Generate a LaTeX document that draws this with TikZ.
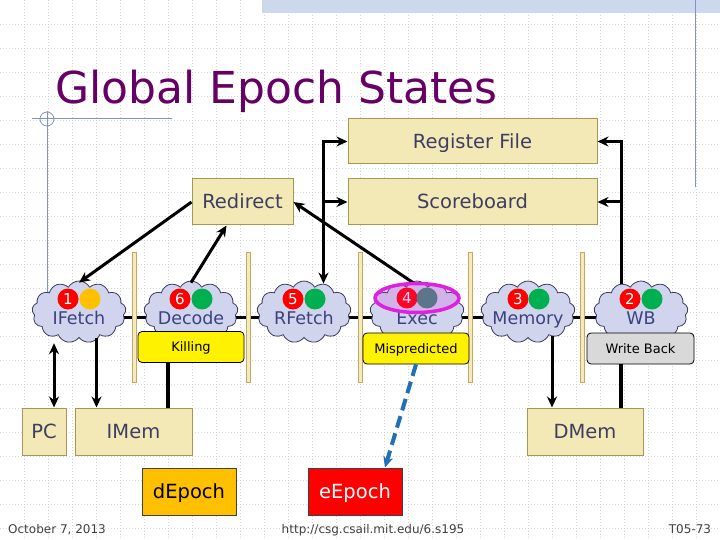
\documentclass[tikz,border=0pt]{standalone}
\usepackage{fontspec}
\setmainfont{DejaVu Sans}
\usetikzlibrary{calc,shapes,arrows.meta}
\definecolor{regfill}{RGB}{243,233,182}
\definecolor{regline}{RGB}{168,150,84}
\definecolor{boxtext}{RGB}{62,62,98}
\definecolor{cloudfill}{RGB}{208,212,236}
\definecolor{cloudline}{RGB}{60,60,100}
\definecolor{stagetext}{RGB}{60,66,128}
\definecolor{titlecol}{RGB}{102,0,102}
\definecolor{epochred}{RGB}{255,0,0}
\definecolor{epochgreen}{RGB}{0,176,80}
\definecolor{epochorange}{RGB}{255,192,0}
\definecolor{epochteal}{RGB}{64,136,120}
\definecolor{ringcol}{RGB}{224,32,224}
\definecolor{fifofill}{RGB}{245,233,190}
\definecolor{fifoline}{RGB}{200,168,96}
\definecolor{dashblue}{RGB}{31,112,180}
\definecolor{slideblue}{RGB}{130,146,196}
\definecolor{hatchblue}{RGB}{204,216,236}
\definecolor{gridcol}{RGB}{214,214,214}
\definecolor{footcol}{RGB}{64,64,64}
\tikzstyle{every picture}=[>={Stealth[length=11pt,width=10pt]}]
\tikzstyle{unitbox}=[draw=regline,fill=regfill,text=boxtext,line width=1pt,inner sep=0pt,
  font=\fontsize{19.5}{22}\selectfont,text height=14pt,text depth=0pt]
\tikzstyle{stagecloud}=[cloud,cloud puffs=13,cloud puff arc=120,cloud ignores aspect,draw=cloudline,
  fill=cloudfill,line width=0.8pt,minimum width=94pt,minimum height=62pt,inner sep=0pt]
\tikzstyle{stagelbl}=[text=stagetext,inner sep=0pt,font=\fontsize{17.5}{20}\selectfont,
  text height=12.8pt,text depth=0pt]
\tikzstyle{epochnum}=[circle,fill=epochred,text=white,minimum size=21pt,inner sep=0pt,
  font=\fontsize{15}{15}\selectfont]
\tikzstyle{epochdot}=[circle,minimum size=21pt,inner sep=0pt]
\tikzstyle{flagbox}=[draw=black,rounded corners=4pt,line width=0.8pt,minimum height=31pt,inner sep=0pt,
  font=\fontsize{13}{15}\selectfont,text height=9.5pt,text depth=0pt]
\tikzstyle{epochreg}=[draw=black!75,line width=1pt,minimum width=94pt,minimum height=47pt,inner sep=0pt,
  font=\fontsize{19.5}{22}\selectfont,text height=14pt,text depth=0pt]
\tikzstyle{fifobar}=[draw=fifoline,fill=fifofill,line width=0.8pt]
\tikzstyle{wire}=[line width=3pt]
\tikzstyle{gridline}=[gridcol,line width=0.6pt,dash pattern=on 0.8pt off 2.2pt]
\tikzstyle{footer}=[text=footcol,inner sep=0pt,font=\fontsize{12}{14}\selectfont,anchor=base]

\begin{document}
\begin{tikzpicture}[x=1pt,y=-1pt]
    \useasboundingbox (0,0) rectangle (720,540);
    % slide background
    \fill[white] (0,0) rectangle (720,540);
    \foreach \gx in {24,48,...,696} \draw[gridline] (\gx,0) -- (\gx,540);
    \foreach \gy in {24,48,...,528} \draw[gridline] (0,\gy) -- (720,\gy);
    \fill[hatchblue] (262,0) rectangle (720,13);
    \draw[slideblue,line width=1pt] (695,0) -- (695,187);
    \draw[slideblue,line width=1pt] (32,119) -- (172,119);
    \draw[slideblue,line width=1pt] (47,111) -- (47,300);
    \draw[slideblue,line width=0.8pt] (47,119) circle[radius=7pt];

    % Title
    \node[anchor=base west,text=titlecol,inner sep=0pt,font=\fontsize{44}{50}\selectfont]
        (title) at (55,104) {Global Epoch States};

    % Shared state
    \node[unitbox,minimum width=249pt,minimum height=45pt] (regfile) at (472.5,141.5) {Register File};
    \node[unitbox,minimum width=249pt,minimum height=46pt] (scoreboard) at (472.5,202) {Scoreboard};
    \node[unitbox,minimum width=101pt,minimum height=46pt] (redirect) at (242.5,202) {Redirect};

    % Memories
    \node[unitbox,minimum width=44pt,minimum height=47pt] (pc) at (44,431.5) {PC};
    \node[unitbox,minimum width=117pt,minimum height=47pt] (imem) at (133.5,431.5) {IMem};
    \node[unitbox,minimum width=116pt,minimum height=47pt] (dmem) at (585,431.5) {DMem};

    % Epoch registers
    \node[epochreg,fill=epochorange] (depoch) at (189,491.5) {dEpoch};
    \node[epochreg,fill=epochred,text=white] (eepoch) at (355,491.5) {eEpoch};

    % Pipeline wire behind the stages
    \coordinate (ifetchc) at (79,312);
    \coordinate (decodec) at (191,312);
    \coordinate (rfetchc) at (304,312);
    \coordinate (execc) at (417,312);
    \coordinate (memoryc) at (528,312);
    \coordinate (wbc) at (641,312);
    \draw[wire] ([yshift=-5pt]ifetchc) -- ([yshift=-5pt]wbc);
    \foreach \fx in {134,248,360,470,582}
        \draw[fifobar] (\fx-2,252) rectangle (\fx+2,382);

    % WB writes register file and scoreboard
    \coordinate (wbjoin) at ([xshift=24pt]regfile.east);
    \draw[wire,->] ($(wbjoin |- wbc)+(0,-18)$) -- (wbjoin) -- (regfile.east);
    \draw[wire,->] (wbjoin |- scoreboard.east) -- (scoreboard.east);

    % IFetch
    \node[stagecloud] (ifetch) at (ifetchc) {};
    \node[stagelbl] (ifetchlbl) at ([yshift=-6pt]ifetch.center) {IFetch};
    \node[epochnum] (ifetchnum) at ([xshift=-11pt,yshift=13pt]ifetch.center) {1};
    \node[epochdot,fill=epochorange] (ifetchdot) at ([xshift=11pt,yshift=13pt]ifetch.center) {};

    % Decode
    \node[stagecloud] (decode) at (decodec) {};
    \node[stagelbl] (decodelbl) at ([yshift=-6pt]decode.center) {Decode};
    \node[epochnum] (decodenum) at ([xshift=-11pt,yshift=13pt]decode.center) {6};
    \node[epochdot,fill=epochgreen] (decodedot) at ([xshift=11pt,yshift=13pt]decode.center) {};

    % RFetch
    \node[stagecloud] (rfetch) at (rfetchc) {};
    \node[stagelbl] (rfetchlbl) at ([yshift=-6pt]rfetch.center) {RFetch};
    \node[epochnum] (rfetchnum) at ([xshift=-11pt,yshift=13pt]rfetch.center) {5};
    \node[epochdot,fill=epochgreen] (rfetchdot) at ([xshift=11pt,yshift=13pt]rfetch.center) {};

    % Exec
    \node[stagecloud] (exec) at (execc) {};
    \node[stagelbl] (execlbl) at ([yshift=-6pt]exec.center) {Exec};
    \node[epochnum] (execnum) at ([xshift=-10pt,yshift=14pt]exec.center) {4};
    \node[epochdot,fill=epochteal] (execdot) at ([xshift=10pt,yshift=14pt]exec.center) {};

    % Memory
    \node[stagecloud] (memory) at (memoryc) {};
    \node[stagelbl] (memorylbl) at ([yshift=-6pt]memory.center) {Memory};
    \node[epochnum] (memorynum) at ([xshift=-10pt,yshift=13pt]memory.center) {3};
    \node[epochdot,fill=epochgreen] (memorydot) at ([xshift=11pt,yshift=13pt]memory.center) {};

    % WB
    \node[stagecloud] (wb) at (wbc) {};
    \node[stagelbl] (wblbl) at ([yshift=-6pt]wb.center) {WB};
    \node[epochnum] (wbnum) at ([xshift=-11pt,yshift=13pt]wb.center) {2};
    \node[epochdot,fill=epochgreen] (wbdot) at ([xshift=11pt,yshift=13pt]wb.center) {};

    % Kill signals
    \node[flagbox,fill=yellow,minimum width=106pt] (killing) at (191,347) {Killing};
    \node[flagbox,fill=yellow,minimum width=106pt] (mispred) at (416,348.5) {Mispredicted};
    \node[flagbox,fill=black!15,minimum width=107pt] (writeback) at (640.5,348.5) {Write Back};

    % Redirect traffic
    \draw[wire,->] (redirect.west) -- ([yshift=-2pt]ifetch.north);
    \draw[wire,->] ([yshift=-2pt]decode.north) -- ([xshift=-16pt]redirect.south);
    \draw[wire,->] ([xshift=-4pt,yshift=-2pt]exec.north) -- (redirect.east);

    % RFetch reads register file and scoreboard
    \coordinate (rfjoin) at ([xshift=-24pt]regfile.west);
    \draw[wire,<->] (regfile.west) -- (rfjoin) -- ($(rfjoin |- rfetch.north)+(0,3)$);
    \draw[wire,->] (rfjoin |- scoreboard.west) -- (scoreboard.west);

    % Epoch ring on Exec
    \node[ellipse,draw=ringcol,line width=3.5pt,fill=ringcol,fill opacity=0.18,
        minimum width=84pt,minimum height=29pt,inner sep=0pt] (execring) at (417,298) {};

    % Memory ports
    \draw[wire,<->] ($(pc.north)+(10,0)$) -- ($(pc.north |- ifetch.south)+(10,5)$);
    \draw[wire,->] ($(imem.north |- ifetch.south)+(-37,0)$) -- ($(imem.north)+(-37,0)$);
    \draw[line width=4pt] ($(killing.south)+(-23,0)$) -- ($(killing.south |- imem.north)+(-23,0)$);
    \draw[wire,->] ($(memory.south)+(24,-2)$) -- ($(memory.south |- dmem.north)+(24,0)$);
    \draw[line width=4pt] ($(writeback.south)+(-19.5,0)$) -- ($(writeback.south |- dmem.north)+(-19.5,0)$);

    % Misprediction updates eEpoch
    \draw[dashblue,line width=4pt,dash pattern=on 12pt off 6pt,->] (mispred.south) -- ($(eepoch.north)+(30,0)$);

    % Footer
    \node[footer] (date) at (57,533) {October 7, 2013};
    \node[footer] (url) at (373,533) {http://csg.csail.mit.edu/6.s195};
    \node[footer] (slide) at (690,533) {T05-73};
\end{tikzpicture}
\end{document}
